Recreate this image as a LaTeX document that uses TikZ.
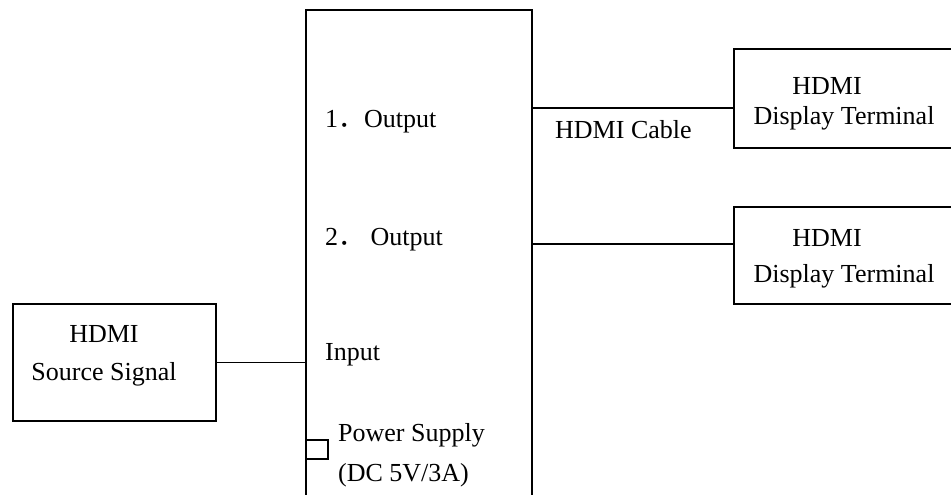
\documentclass[tikz,border=0pt]{standalone}
\usepackage{fontspec}
\setmainfont{Liberation Serif}
\newfontfamily\cjk{Noto Sans CJK SC}

\begin{document}
\begin{tikzpicture}[
        x=1pt, y=-1pt,
        box/.style={rectangle, draw, line width=1.8pt, inner sep=0pt, anchor=north west},
        txt/.style={font=\fontsize{26}{30}\selectfont, inner sep=0pt},
        wire/.style={line width=1.8pt}
    ]
        \clip (0,0) rectangle (951,495);

        % Splitter box (runs off the bottom of the page)
        \node[box, minimum width=226pt, minimum height=520pt] (split_box) at (305,9) {};
        \node[box, minimum width=22pt, minimum height=19pt] (pwr_port) at (305,439) {};
        \node[txt, anchor=west] (out1_lbl) at (325,122) {1{\cjk ．}Output};
        \node[txt, anchor=west] (out2_lbl) at (325,240) {2{\cjk ．} Output};
        \node[txt, anchor=west] (in_lbl) at (325,355) {Input};
        \node[txt, anchor=west] (pwr_lbl) at (338,435) {Power Supply};
        \node[txt, anchor=west] (dc_lbl) at (338,475) {(DC 5V/3A)};

        % Source
        \node[box, minimum width=203pt, minimum height=117pt] (src_box) at (12,303) {};
        \node[txt] (src_top) at (104,334) {HDMI};
        \node[txt] (src_bot) at (104,374) {Source Signal};

        % Displays (run off the right edge)
        \node[box, minimum width=240pt, minimum height=99pt] (disp1_box) at (733,48) {};
        \node[txt] (disp1_top) at (827,86) {HDMI};
        \node[txt] (disp1_bot) at (844,118) {Display Terminal};

        \node[box, minimum width=240pt, minimum height=97pt] (disp2_box) at (733,206) {};
        \node[txt] (disp2_top) at (827,238) {HDMI};
        \node[txt] (disp2_bot) at (844,276) {Display Terminal};

        % Cables
        \coordinate (out1) at (531,108);
        \coordinate (out2) at (531,244);
        \draw[wire] (src_box.east) -- (src_box.east -| split_box.west);
        \draw[wire] (out1) -- (out1 -| disp1_box.west);
        \draw[wire] (out2) -- (out2 -| disp2_box.west);
        \node[txt, anchor=west] (cable_lbl) at (555,130) {HDMI Cable};

    \end{tikzpicture}
\end{document}
